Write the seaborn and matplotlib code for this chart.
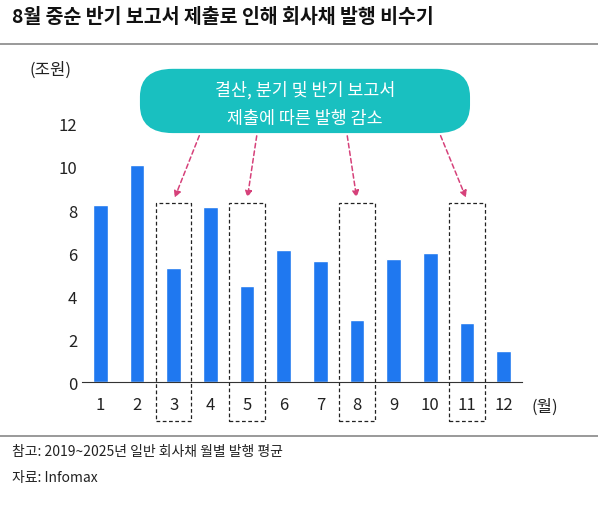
import matplotlib
matplotlib.use("Agg")
import matplotlib.pyplot as plt
import seaborn as sns
import pandas as pd
from matplotlib.patches import FancyBboxPatch, Rectangle

months = ['1', '2', '3', '4', '5', '6', '7', '8', '9', '10', '11', '12']
issuance = [8.25, 10.1, 5.3, 8.15, 4.45, 6.15, 5.65, 2.9, 5.7, 6.0, 2.75, 1.45]
highlight = ['3', '5', '8', '11']

sns.set_style("white")
plt.rcParams['font.family'] = ['Noto Sans CJK KR', 'DejaVu Sans']

df = pd.DataFrame({'month': months, 'value': issuance})

fig = plt.figure(figsize=(5.98, 5.06), dpi=100)
ax = fig.add_axes([0.137, 0.243, 0.736, 0.510])
sns.barplot(data=df, x='month', y='value', order=months, color='#1f78f0',
            saturation=1, width=0.4, ax=ax)
ax.set_ylim(0, 12)
ax.set_yticks(range(0, 13, 2))
ax.set_xlabel('')
ax.set_ylabel('')
for s in ['top', 'right', 'left']:
    ax.spines[s].set_visible(False)
ax.spines['bottom'].set_color('#333333')
ax.tick_params(axis='both', labelsize=12, colors='#222222', length=0)
ax.tick_params(axis='x', pad=10)
ax.set_xlim(-0.5, 11.5)

# dashed boxes around highlighted months
for m in highlight:
    i = months.index(m)
    r = Rectangle((i - 0.48, -1.83), 0.96, 10.15, fill=False, ls=(0, (3, 2)),
                  lw=0.9, ec='#222222', clip_on=False)
    ax.add_patch(r)

fig.text(0.05, 0.853, '(조원)', fontsize=12, color='#222222')
fig.text(0.888, 0.187, '(월)', fontsize=12, color='#222222')

# callout
box = FancyBboxPatch((0.234, 0.735), 0.552, 0.127, boxstyle='round,pad=0,rounding_size=0.055',
                     transform=fig.transFigure, fc='#19c0c0', ec='none')
fig.patches.append(box)
fig.text(0.51, 0.822, '결산, 분기 및 반기 보고서', ha='center', va='center', fontsize=12.5, color='white')
fig.text(0.51, 0.765, '제출에 따른 발행 감소', ha='center', va='center', fontsize=12.5, color='white')

starts = [(0.335, 0.735), (0.43, 0.735), (0.58, 0.735), (0.735, 0.735)]
for (sx, sy), m in zip(starts, highlight):
    i = months.index(m)
    ax.annotate('', xy=(i, 8.45), xycoords='data', xytext=(sx, sy), textcoords='figure fraction',
                arrowprops=dict(arrowstyle='-|>', ls=(0, (3, 2)), color='#d6417a', lw=1.1,
                                mutation_scale=10))

fig.text(0.02, 0.955, '8월 중순 반기 보고서 제출로 인해 회사채 발행 비수기',
         fontsize=14, fontweight='bold', color='#111111')
fig.add_artist(plt.Line2D([0, 1], [0.911, 0.911], color='#888888', lw=1.2))
fig.add_artist(plt.Line2D([0, 1], [0.137, 0.137], color='#888888', lw=1.2))
fig.text(0.02, 0.098, '참고: 2019~2025년 일반 회사채 월별 발행 평균', fontsize=10, color='#222222')
fig.text(0.02, 0.048, '자료: Infomax', fontsize=10, color='#222222')

fig.savefig('out.png', dpi=100)
